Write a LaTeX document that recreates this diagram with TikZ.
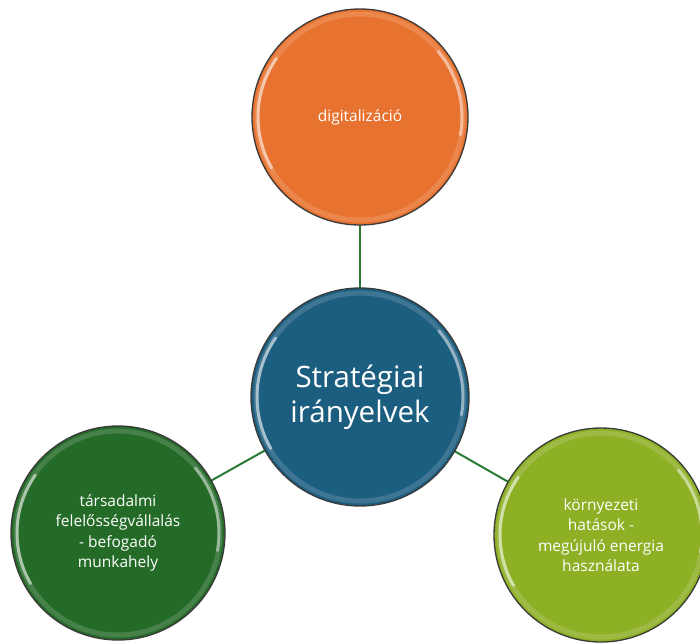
\documentclass[tikz,border=0pt]{standalone}
\usepackage{fontspec}
\setmainfont{Open Sans}
\definecolor{corange}{HTML}{E8722F}
\definecolor{cblue}{HTML}{1C5E80}
\definecolor{cdgreen}{HTML}{256B28}
\definecolor{clime}{HTML}{8DB024}
\definecolor{clink}{HTML}{2A7A33}
\definecolor{cedge}{HTML}{3A3A3A}
\tikzset{
  bubble/.style={circle, draw=cedge, line width=1.3pt, minimum size=#1, inner sep=0pt, align=center, text=white},
  link/.style={draw=clink, line width=2pt},
  small/.style={font=\fontsize{15.5}{20.5}\selectfont},
  big/.style={font=\fontsize{29.5}{35}\selectfont}
}
\newcommand{\glossy}[2]{%
  \begin{scope}
    \draw[white, opacity=0.15, line width=5pt] (#1) circle[radius=#2-5];
    \draw[white, opacity=0.55, line width=3pt, line cap=round] ([shift={(150:#2-6)}]#1) arc[start angle=150, end angle=215, radius=#2-6];
    \draw[white, opacity=0.45, line width=3pt, line cap=round] ([shift={(-40:#2-6)}]#1) arc[start angle=-40, end angle=10, radius=#2-6];
  \end{scope}}
\begin{document}
\begin{tikzpicture}[x=1pt,y=-1pt]
\useasboundingbox (0,0) rectangle (700,643);
\coordinate (pT) at (360,117);
\coordinate (pC) at (360,397);
\coordinate (pL) at (118,533);
\coordinate (pR) at (601,535);
\draw[link] (pT) -- (pC);
\draw[link] (pC) -- (pL);
\draw[link] (pC) -- (pR);
\node[bubble=216pt, fill=corange, small] (top) at (pT) {digitalizáció};
\node[bubble=218pt, fill=cblue, big] (mid) at (pC) {Stratégiai\\irányelvek};
\node[bubble=214pt, fill=cdgreen, small] (left) at (pL) {társadalmi\\felelősségvállalás\\- befogadó\\munkahely};
\node[bubble=214pt, fill=clime, small] (right) at (pR) {környezeti\\hatások -\\megújuló energia\\használata};
\glossy{pT}{108}
\glossy{pC}{109}
\glossy{pL}{107}
\glossy{pR}{107}
\end{tikzpicture}
\end{document}
